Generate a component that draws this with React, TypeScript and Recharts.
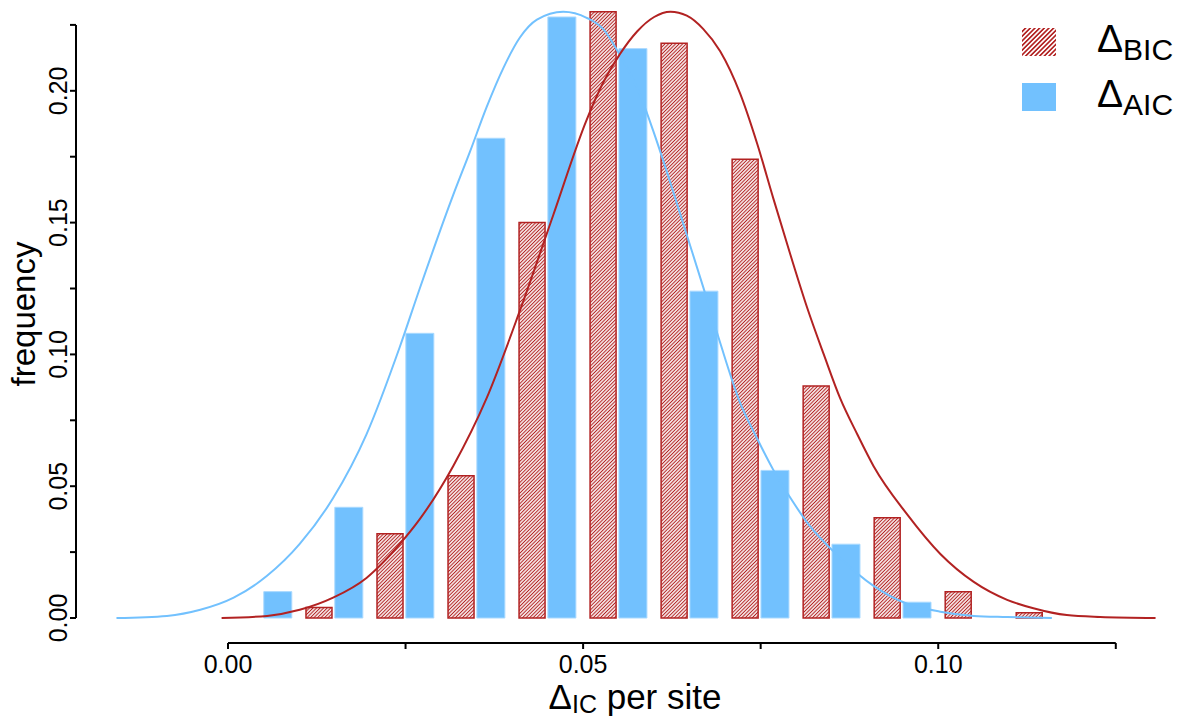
import React from 'react';
import { ComposedChart, Bar, Line, XAxis, YAxis, ReferenceLine, Legend, Label } from 'recharts';

// ---- data ----
const aicCenters = [0.007, 0.017, 0.027, 0.037, 0.047, 0.057, 0.067, 0.077, 0.087, 0.097];
const aicFreq = [0.010, 0.042, 0.108, 0.182, 0.228, 0.216, 0.124, 0.056, 0.028, 0.006];

const bicCenters = [0.0128, 0.0228, 0.0328, 0.0428, 0.0528, 0.0628, 0.0728, 0.0828, 0.0928, 0.1028, 0.1128];
const bicFreq = [0.004, 0.032, 0.054, 0.150, 0.230, 0.218, 0.174, 0.088, 0.038, 0.010, 0.002];

const aicCurveX = [-0.0157, -0.0086, -0.0039, 0.0008, 0.0055, 0.0101, 0.0148, 0.0195, 0.0242, 0.0270, 0.0317, 0.0341, 0.0364, 0.0388, 0.0411, 0.0435, 0.0472, 0.0505, 0.0529, 0.0552, 0.0576, 0.0599, 0.0623, 0.0646, 0.0669, 0.0693, 0.0721, 0.0745, 0.0768, 0.0792, 0.0815, 0.0862, 0.0909, 0.0956, 0.1003, 0.1050, 0.1097, 0.1160];
const aicCurveY = [0.0000, 0.0008, 0.0031, 0.0077, 0.0160, 0.0281, 0.0455, 0.0697, 0.1029, 0.1250, 0.1604, 0.1771, 0.1937, 0.2088, 0.2202, 0.2270, 0.2300, 0.2277, 0.2232, 0.2134, 0.2013, 0.1846, 0.1650, 0.1453, 0.1256, 0.1044, 0.0817, 0.0681, 0.0561, 0.0455, 0.0364, 0.0228, 0.0122, 0.0054, 0.0024, 0.0008, 0.0004, 0.0000];

const bicCurveX = [-0.0009, 0.0055, 0.0101, 0.0148, 0.0195, 0.0242, 0.0270, 0.0317, 0.0364, 0.0411, 0.0458, 0.0505, 0.0529, 0.0552, 0.0576, 0.0600, 0.0623, 0.0646, 0.0669, 0.0693, 0.0721, 0.0745, 0.0768, 0.0792, 0.0815, 0.0839, 0.0862, 0.0886, 0.0909, 0.0956, 0.1003, 0.1050, 0.1097, 0.1134, 0.1181, 0.1228, 0.1306];
const bicCurveY = [0.0000, 0.0008, 0.0031, 0.0077, 0.0152, 0.0281, 0.0375, 0.0576, 0.0833, 0.1166, 0.1529, 0.1890, 0.2035, 0.2140, 0.2225, 0.2280, 0.2300, 0.2285, 0.2235, 0.2150, 0.1990, 0.1800, 0.1590, 0.1377, 0.1181, 0.0999, 0.0833, 0.0697, 0.0576, 0.0394, 0.0243, 0.0137, 0.0069, 0.0037, 0.0011, 0.0004, 0.0000];

const xTicks = [0, 0.025, 0.05, 0.075, 0.1, 0.125];
const xTickLabels = ['0.00', '', '0.05', '', '0.10', ''];
const yTicks = [0, 0.025, 0.05, 0.075, 0.1, 0.125, 0.15, 0.175, 0.2, 0.225];
const yTickLabels = ['0.00', '', '0.05', '', '0.10', '', '0.15', '', '0.20', ''];
const legendOrder = ['bic', 'aic'];

const X_DOMAIN: [number, number] = [-0.0214, 0.1339];
const Y_DOMAIN: [number, number] = [-0.00948, 0.23255];

// ---- derived tables ----
const barRows = [
  ...aicCenters.map((x, i) => ({ x, aic: aicFreq[i] })),
  ...bicCenters.map((x, i) => ({ x, bic: bicFreq[i] })),
].sort((p, q) => p.x - q.x);
const aicCurve = aicCurveX.map((x, i) => ({ x, y: aicCurveY[i] }));
const bicCurve = bicCurveX.map((x, i) => ({ x, y: bicCurveY[i] }));

const FONT = '"Liberation Sans", Arial, Helvetica, sans-serif';
const RED = '#B22222';
const BLUE = '#72C1FE';

const labelFor = (ticks: number[], labels: string[], v: number) => {
  const i = ticks.findIndex((t) => Math.abs(t - v) < 1e-9);
  return i >= 0 ? labels[i] : '';
};

const YTick = (props: any) => {
  const { x, y, payload } = props;
  return (
    <text x={x} y={y} transform={`rotate(-90 ${x} ${y})`} textAnchor="middle" fontSize={25} fontFamily={FONT} fill="#000">
      {labelFor(yTicks, yTickLabels, payload.value)}
    </text>
  );
};

const XTitle = (props: any) => {
  const vb = props.viewBox;
  const cx = vb.x + vb.width / 2 + 7.5;
  const by = vb.y + vb.height - 10;
  return (
    <text x={cx} y={by} textAnchor="middle" fontSize={35} fontFamily={FONT} fill="#000">
      <tspan>Δ</tspan>
      <tspan fontSize={25} dy={4}>IC</tspan>
      <tspan dy={-4}> per site</tspan>
    </text>
  );
};

const YTitle = (props: any) => {
  const vb = props.viewBox;
  const bx = vb.x + 35;
  const cy = vb.y + vb.height / 2 - 10;
  return (
    <text x={bx} y={cy} transform={`rotate(-90 ${bx} ${cy})`} textAnchor="middle" fontSize={33} fontFamily={FONT} fill="#000">
      frequency
    </text>
  );
};

const renderLegend = (props: any) => {
  const payload = (props.payload || [])
    .filter((e: any) => e.type !== 'none')
    .slice()
    .sort((a: any, b: any) => legendOrder.indexOf(a.dataKey) - legendOrder.indexOf(b.dataKey));
  return (
    <svg width={169} height={120} style={{ display: 'block' }}>
      <defs>
        <pattern id="legHatch" patternUnits="userSpaceOnUse" width="3.3" height="3.3" patternTransform="rotate(45)">
          <rect width="3.3" height="3.3" fill="#fff" />
          <line x1="1.65" y1="0" x2="1.65" y2="3.3" stroke={RED} strokeWidth="1.7" />
        </pattern>
      </defs>
      {payload.map((e: any, i: number) => {
        const y0 = i * 55;
        const hatched = e.dataKey === 'bic';
        return (
          <g key={String(e.dataKey)}>
            <rect x={12} y={10 + y0} width={34} height={28} fill={hatched ? 'url(#legHatch)' : BLUE} />
            <text x={87} y={34 + y0} fontSize={39} fontFamily={FONT} fill="#000">
              Δ<tspan fontSize={30} dy={8}>{e.value}</tspan>
            </text>
          </g>
        );
      })}
    </svg>
  );
};

export default function App() {
  return (
    <div style={{ position: 'absolute', left: 0, top: 0, background: '#fff' }}>
      <ComposedChart
        width={1179}
        height={719}
        data={barRows}
        margin={{ top: 5, right: 0, bottom: 0, left: 0 }}
      >
        <defs>
          <pattern id="bicHatch" patternUnits="userSpaceOnUse" width="2.5" height="2.5" patternTransform="rotate(45)">
            <rect width="2.5" height="2.5" fill="#fff" />
            <line x1="1.25" y1="0" x2="1.25" y2="2.5" stroke={RED} strokeWidth="1.1" />
          </pattern>
        </defs>
        <XAxis
          xAxisId="a"
          type="number"
          dataKey="x"
          domain={X_DOMAIN}
          allowDataOverflow
          ticks={xTicks}
          interval={0}
          axisLine={false}
          tickLine={{ stroke: '#000', strokeWidth: 2 }}
          tickSize={6}
          tickMargin={6}
          height={76}
          tick={{ fontSize: 25, fill: '#000', fontFamily: FONT }}
          tickFormatter={(v: number) => labelFor(xTicks, xTickLabels, v)}
        >
          <Label content={XTitle} />
        </XAxis>
        <XAxis xAxisId="b" type="number" dataKey="x" domain={X_DOMAIN} allowDataOverflow hide />
        <XAxis xAxisId="c" type="number" dataKey="x" domain={X_DOMAIN} allowDataOverflow hide />
        <YAxis
          type="number"
          domain={Y_DOMAIN}
          allowDataOverflow
          ticks={yTicks}
          interval={0}
          width={76}
          axisLine={false}
          tickLine={{ stroke: '#000', strokeWidth: 2 }}
          tickSize={6}
          tickMargin={3}
          tick={YTick}
        >
          <Label content={YTitle} />
        </YAxis>

        <Bar
          xAxisId="b"
          dataKey="bic"
          name="BIC"
          barSize={26}
          fill="url(#bicHatch)"
          stroke={RED}
          strokeWidth={1.5}
          isAnimationActive={false}
        />
        <Bar
          xAxisId="a"
          dataKey="aic"
          name="AIC"
          barSize={28}
          fill={BLUE}
          stroke="#A9D9FF"
          strokeWidth={1}
          isAnimationActive={false}
        />
        <Line
          xAxisId="c"
          data={aicCurve}
          dataKey="y"
          type="monotone"
          stroke={BLUE}
          strokeWidth={2}
          dot={false}
          legendType="none"
          isAnimationActive={false}
        />
        <Line
          xAxisId="c"
          data={bicCurve}
          dataKey="y"
          type="monotone"
          stroke={RED}
          strokeWidth={2}
          dot={false}
          legendType="none"
          isAnimationActive={false}
        />

        <ReferenceLine
          xAxisId="a"
          segment={[{ x: xTicks[0], y: Y_DOMAIN[0] }, { x: xTicks[xTicks.length - 1], y: Y_DOMAIN[0] }]}
          stroke="#000"
          strokeWidth={2}
          ifOverflow="visible"
        />
        <ReferenceLine
          xAxisId="a"
          segment={[{ x: X_DOMAIN[0], y: yTicks[0] }, { x: X_DOMAIN[0], y: yTicks[yTicks.length - 1] }]}
          stroke="#000"
          strokeWidth={2}
          ifOverflow="visible"
        />

        <Legend
          layout="vertical"
          align="center"
          verticalAlign="middle"
          wrapperStyle={{ left: 1010, top: 18, width: 169, height: 120 }}
          content={renderLegend}
        />
      </ComposedChart>
    </div>
  );
}
